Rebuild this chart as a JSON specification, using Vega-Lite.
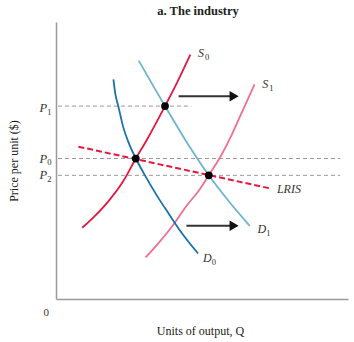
{
  "$schema": "https://vega.github.io/schema/vega-lite/v6.json",
  "width": 292,
  "height": 277,
  "autosize": {"type": "none"},
  "padding": {"left": 56, "top": 22, "right": 6, "bottom": 43},
  "background": "white",
  "config": {"view": {"stroke": null}, "font": "Liberation Serif"},
  "title": {"text": "a. The industry", "font": "Liberation Serif", "fontSize": 12.5, "fontWeight": "bold", "color": "#222", "anchor": "middle", "dx": -4, "offset": 5},
  "datasets": {
    "curves": [
      {"s": "S0", "q": 27, "p": 72}, {"s": "S0", "q": 39, "p": 83}, {"s": "S0", "q": 54, "p": 99}, {"s": "S0", "q": 69, "p": 119}, {"s": "S0", "q": 82, "p": 142}, {"s": "S0", "q": 94, "p": 162}, {"s": "S0", "q": 104, "p": 180}, {"s": "S0", "q": 112, "p": 195}, {"s": "S0", "q": 124, "p": 218}, {"s": "S0", "q": 138, "p": 247},
      {"s": "S1", "q": 92, "p": 42}, {"s": "S1", "q": 104, "p": 55}, {"s": "S1", "q": 119, "p": 73}, {"s": "S1", "q": 134, "p": 94}, {"s": "S1", "q": 147, "p": 110}, {"s": "S1", "q": 157, "p": 125}, {"s": "S1", "q": 169, "p": 144}, {"s": "S1", "q": 181, "p": 167}, {"s": "S1", "q": 192, "p": 191}, {"s": "S1", "q": 204, "p": 217},
      {"s": "D0", "q": 59, "p": 222}, {"s": "D0", "q": 61, "p": 207}, {"s": "D0", "q": 64, "p": 195}, {"s": "D0", "q": 69, "p": 174}, {"s": "D0", "q": 75, "p": 157}, {"s": "D0", "q": 82, "p": 142}, {"s": "D0", "q": 92, "p": 124}, {"s": "D0", "q": 104, "p": 104}, {"s": "D0", "q": 116, "p": 86}, {"s": "D0", "q": 129, "p": 67}, {"s": "D0", "q": 146, "p": 46},
      {"s": "D1", "q": 85, "p": 241}, {"s": "D1", "q": 99, "p": 217}, {"s": "D1", "q": 112, "p": 195}, {"s": "D1", "q": 134, "p": 159}, {"s": "D1", "q": 157, "p": 125}, {"s": "D1", "q": 179, "p": 97}, {"s": "D1", "q": 199, "p": 74}
    ],
    "lris": [{"q": 23, "p": 154}, {"q": 219, "p": 112}],
    "refs": [
      {"r": "P1", "q": 2, "p": 195}, {"r": "P1", "q": 139, "p": 195},
      {"r": "P0", "q": 2, "p": 142}, {"r": "P0", "q": 292, "p": 142},
      {"r": "P2", "q": 2, "p": 125}, {"r": "P2", "q": 292, "p": 125}
    ],
    "eq": [{"q": 112, "p": 195}, {"q": 82, "p": 142}, {"q": 157, "p": 125}],
    "arrows": [
      {"a": "top", "q": 126, "p": 205}, {"a": "top", "q": 180, "p": 205},
      {"a": "bottom", "q": 134, "p": 74}, {"a": "bottom", "q": 180, "p": 74}
    ],
    "heads": [{"q": 183, "p": 205}, {"q": 183, "p": 74}],
    "labels": [
      {"t": "S", "q": 146, "p": 249},
      {"t": "S", "q": 212, "p": 217},
      {"t": "LRIS", "q": 227, "p": 111},
      {"t": "D", "q": 207, "p": 71},
      {"t": "D", "q": 151, "p": 41}
    ],
    "subs": [
      {"t": "0", "q": 153, "p": 245},
      {"t": "1", "q": 219, "p": 213},
      {"t": "1", "q": 216, "p": 67},
      {"t": "0", "q": 160, "p": 37},
      {"t": "1", "q": -9, "p": 189},
      {"t": "0", "q": -9, "p": 138},
      {"t": "2", "q": -9, "p": 121}
    ],
    "plabels": [
      {"t": "P", "q": -9, "p": 193},
      {"t": "P", "q": -9, "p": 142},
      {"t": "P", "q": -9, "p": 125}
    ],
    "zero": [{"t": "0", "q": -10, "p": -14}]
  },
  "layer": [
    {
      "data": {"name": "refs"},
      "mark": {"type": "line", "color": "#999999", "strokeWidth": 1, "strokeDash": [4, 3]},
      "encoding": {
        "x": {"field": "q", "type": "quantitative", "scale": {"domain": [0, 292]}, "axis": {"title": "Units of output, Q", "labels": false, "ticks": false, "grid": false, "domainColor": "#9a9a9a", "domainWidth": 1.5, "titleFont": "Liberation Serif", "titleFontSize": 12, "titleFontWeight": "normal", "titleColor": "#222", "titlePadding": 26, "titleX": 144}},
        "y": {"field": "p", "type": "quantitative", "scale": {"domain": [0, 277]}, "axis": {"title": "Price per unit ($)", "labels": false, "ticks": false, "grid": false, "domainColor": "#9a9a9a", "domainWidth": 1.5, "titleFont": "Liberation Serif", "titleFontSize": 12, "titleFontWeight": "normal", "titleColor": "#222", "titlePadding": 36}},
        "detail": {"field": "r"}
      }
    },
    {
      "data": {"name": "curves"},
      "mark": {"type": "line", "strokeWidth": 1.8, "interpolate": "monotone"},
      "encoding": {
        "x": {"field": "q", "type": "quantitative"},
        "y": {"field": "p", "type": "quantitative"},
        "color": {"field": "s", "type": "nominal", "scale": {"domain": ["S0", "S1", "D0", "D1"], "range": ["#e3173f", "#ef6f92", "#1a72ad", "#6db4d3"]}, "legend": null}
      }
    },
    {
      "data": {"name": "lris"},
      "mark": {"type": "line", "color": "#e3173f", "strokeWidth": 2, "strokeDash": [6, 3]},
      "encoding": {
        "x": {"field": "q", "type": "quantitative"},
        "y": {"field": "p", "type": "quantitative"}
      }
    },
    {
      "data": {"name": "arrows"},
      "mark": {"type": "line", "color": "#333333", "strokeWidth": 2},
      "encoding": {
        "x": {"field": "q", "type": "quantitative"},
        "y": {"field": "p", "type": "quantitative"},
        "detail": {"field": "a"}
      }
    },
    {
      "data": {"name": "heads"},
      "mark": {"type": "point", "shape": "triangle-right", "filled": true, "color": "#111111", "size": 110, "opacity": 1},
      "encoding": {
        "x": {"field": "q", "type": "quantitative"},
        "y": {"field": "p", "type": "quantitative"}
      }
    },
    {
      "data": {"name": "eq"},
      "mark": {"type": "circle", "color": "#000000", "size": 60, "opacity": 1},
      "encoding": {
        "x": {"field": "q", "type": "quantitative"},
        "y": {"field": "p", "type": "quantitative"}
      }
    },
    {
      "data": {"name": "labels"},
      "mark": {"type": "text", "align": "left", "baseline": "middle", "font": "Liberation Serif", "fontStyle": "italic", "fontSize": 12, "color": "#333333"},
      "encoding": {
        "x": {"field": "q", "type": "quantitative"},
        "y": {"field": "p", "type": "quantitative"},
        "text": {"field": "t"}
      }
    },
    {
      "data": {"name": "plabels"},
      "mark": {"type": "text", "align": "right", "baseline": "middle", "font": "Liberation Serif", "fontStyle": "italic", "fontSize": 12.5, "color": "#333333"},
      "encoding": {
        "x": {"field": "q", "type": "quantitative"},
        "y": {"field": "p", "type": "quantitative"},
        "text": {"field": "t"}
      }
    },
    {
      "data": {"name": "subs"},
      "mark": {"type": "text", "align": "left", "baseline": "middle", "font": "Liberation Serif", "fontSize": 8.5, "color": "#333333"},
      "encoding": {
        "x": {"field": "q", "type": "quantitative"},
        "y": {"field": "p", "type": "quantitative"},
        "text": {"field": "t"}
      }
    },
    {
      "data": {"name": "zero"},
      "mark": {"type": "text", "align": "center", "baseline": "middle", "font": "Liberation Serif", "fontSize": 11, "color": "#333333"},
      "encoding": {
        "x": {"field": "q", "type": "quantitative"},
        "y": {"field": "p", "type": "quantitative"},
        "text": {"field": "t"}
      }
    }
  ]
}
